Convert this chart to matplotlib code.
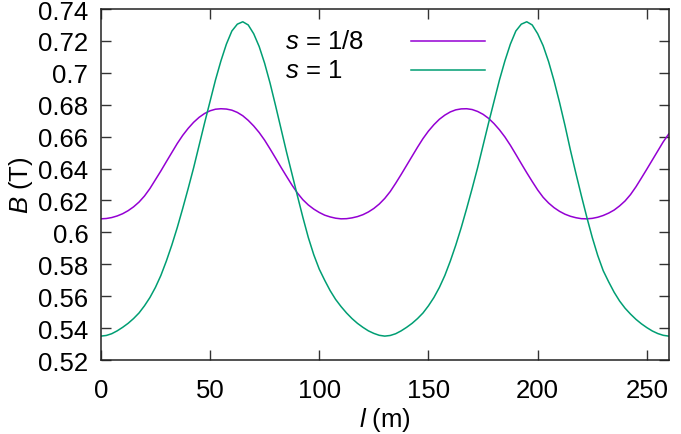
import matplotlib
matplotlib.use("Agg")
import matplotlib.pyplot as plt
from matplotlib.lines import Line2D
from matplotlib.ticker import MultipleLocator

# position along the field line (m), sampled every 2.5 m
l_m = [i * 2.5 for i in range(105)]

# field strength B (T), s = 1/8
b_s18 = [0.6085, 0.6087, 0.6093, 0.6103, 0.6117, 0.6136, 0.6160, 0.6190, 0.6228, 0.6275,
         0.6330, 0.6385, 0.6443, 0.6500, 0.6557, 0.6608, 0.6652, 0.6690, 0.6721, 0.6745,
         0.6762, 0.6772, 0.6775,
         0.6773, 0.6766, 0.6752, 0.6731, 0.6702, 0.6667, 0.6626, 0.6578, 0.6523, 0.6466,
         0.6408, 0.6352, 0.6297, 0.6247, 0.6205, 0.6172, 0.6146, 0.6125, 0.6108, 0.6097,
         0.6089, 0.6085,
         0.6086, 0.6091, 0.6099, 0.6111, 0.6128, 0.6150, 0.6178, 0.6213, 0.6256, 0.6308,
         0.6363, 0.6420, 0.6477, 0.6534, 0.6588, 0.6635, 0.6675, 0.6709, 0.6735, 0.6755,
         0.6768, 0.6774,
         0.6775, 0.6770, 0.6758, 0.6740, 0.6715, 0.6682, 0.6643, 0.6598, 0.6546, 0.6489,
         0.6431, 0.6374, 0.6319, 0.6266, 0.6220, 0.6184, 0.6155, 0.6132, 0.6114, 0.6101,
         0.6092, 0.6086,
         0.6085, 0.6088, 0.6095, 0.6106, 0.6121, 0.6140, 0.6166, 0.6197, 0.6237, 0.6286,
         0.6341, 0.6397, 0.6454, 0.6511, 0.6568, 0.6617]

# s = 1
b_s1 = [0.5350, 0.5354, 0.5365, 0.5383, 0.5405, 0.5430, 0.5460, 0.5495, 0.5540, 0.5592,
        0.5655, 0.5730, 0.5820, 0.5920, 0.6030, 0.6150, 0.6275, 0.6405, 0.6545, 0.6685,
        0.6820, 0.6955, 0.7075, 0.7180, 0.7262, 0.7305, 0.7320, 0.7300, 0.7245, 0.7165,
        0.7060, 0.6935, 0.6795, 0.6650, 0.6505, 0.6368, 0.6230, 0.6095, 0.5968, 0.5860,
        0.5770, 0.5700, 0.5635, 0.5580, 0.5535, 0.5495, 0.5460, 0.5430, 0.5405, 0.5383,
        0.5367, 0.5355, 0.5350,
        0.5354, 0.5365, 0.5383, 0.5405, 0.5430, 0.5460, 0.5495, 0.5540, 0.5592, 0.5655,
        0.5730, 0.5820, 0.5920, 0.6030, 0.6150, 0.6275, 0.6405, 0.6545, 0.6685, 0.6820,
        0.6955, 0.7075, 0.7180, 0.7262, 0.7305, 0.7320, 0.7300, 0.7245, 0.7170, 0.7070,
        0.6950, 0.6815, 0.6670, 0.6515, 0.6370, 0.6230, 0.6095, 0.5968, 0.5855, 0.5760,
        0.5690, 0.5625, 0.5570, 0.5525, 0.5488, 0.5455, 0.5427, 0.5403, 0.5382, 0.5366,
        0.5355, 0.5350]

series_labels = ["$s$ = 1/8", "$s$ = 1"]
series_colors = ["#9400d3", "#009e73"]
x_ticks = [0, 50, 100, 150, 200, 250]

plt.rcParams["font.family"] = ["Liberation Sans", "DejaVu Sans"]
plt.rcParams["mathtext.fontset"] = "custom"
plt.rcParams["mathtext.rm"] = "Liberation Sans"
plt.rcParams["mathtext.it"] = "Liberation Sans:italic"

fig = plt.figure(figsize=(6.81, 4.35), dpi=100)
ax = fig.add_axes([0.148, 0.170, 0.834, 0.807])

for vals, col in zip([b_s18, b_s1], series_colors):
    ax.plot(l_m, vals, color=col, lw=1.1)

ax.set_xlim(0, 260)
ax.set_ylim(0.52, 0.74)
ax.set_xticks(x_ticks)
ax.yaxis.set_major_locator(MultipleLocator(0.02))
ax.yaxis.set_major_formatter(plt.FuncFormatter(lambda v, p: f"{v:.2f}".rstrip("0")))

ax.tick_params(direction="in", length=7, width=1.0, labelsize=18.5,
               top=True, right=True, color="#333333")
ax.tick_params(axis="x", pad=13)
ax.tick_params(axis="y", pad=9)
for sp in ax.spines.values():
    sp.set_linewidth(1.1)
    sp.set_color("#222222")

ax.set_xlabel("$l$ (m)", fontsize=18.5, labelpad=2)
ax.set_ylabel("$B$ (T)", fontsize=18.5, labelpad=2)

# gnuplot style key: text first, sample line after
for i, (lab, col) in enumerate(zip(series_labels, series_colors)):
    y = 0.91 - i * 0.085
    ax.text(0.324, y, lab, transform=ax.transAxes, fontsize=18.5, va="center", ha="left")
    ax.add_line(Line2D([0.546, 0.677], [y, y], transform=ax.transAxes, color=col, lw=1.1))

fig.savefig("out.png", dpi=100)
